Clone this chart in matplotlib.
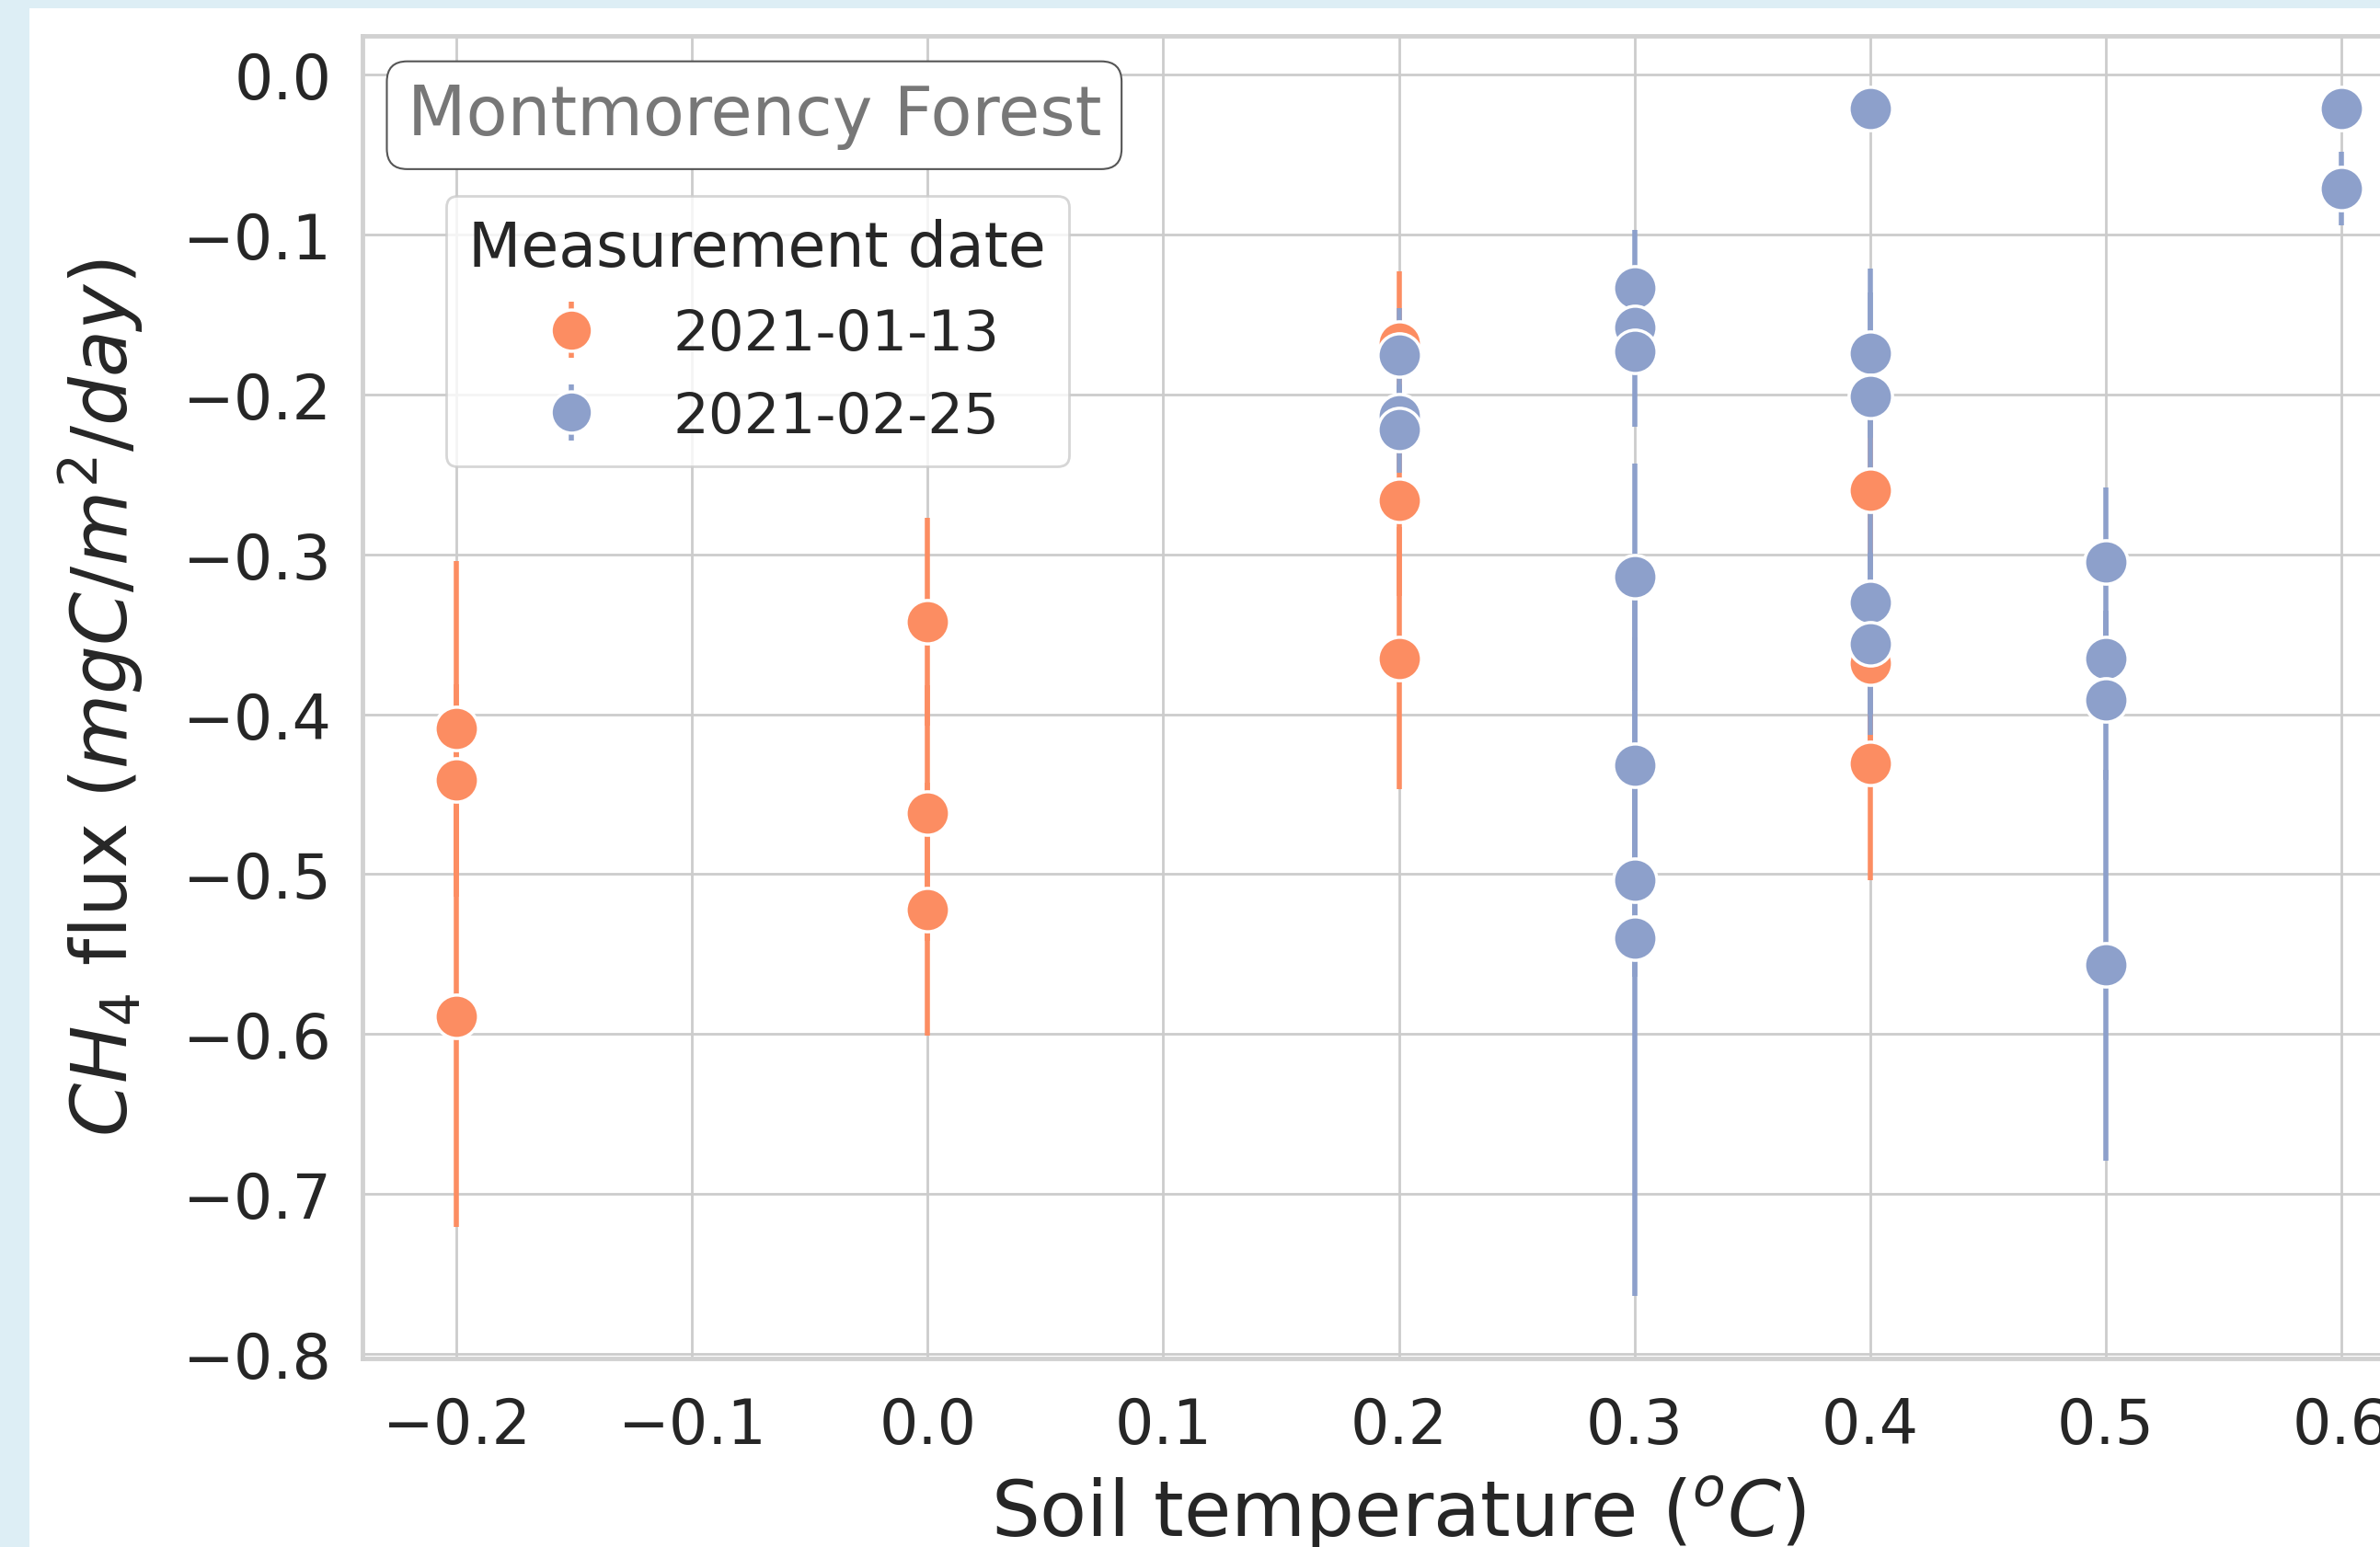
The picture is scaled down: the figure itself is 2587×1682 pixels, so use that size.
import matplotlib
matplotlib.use("Agg")
import matplotlib.pyplot as plt
from matplotlib.patches import Rectangle
import seaborn as sns

# soil temperature (oC), CH4 flux and its error for each measurement date
temp_jan = [-0.2, -0.2, -0.2, 0.0, 0.0, 0.0, 0.2, 0.2, 0.2, 0.4, 0.4, 0.4]
flux_jan = [-0.409, -0.441, -0.589, -0.342, -0.462, -0.522,
            -0.168, -0.266, -0.365, -0.260, -0.368, -0.431]
err_jan = [0.105, 0.06, 0.132, 0.065, 0.08, 0.079,
           0.045, 0.06, 0.082, 0.05, 0.05, 0.073]

temp_feb = [0.2, 0.2, 0.2,
            0.3, 0.3, 0.3, 0.3, 0.3, 0.3, 0.3,
            0.4, 0.4, 0.4, 0.4, 0.4,
            0.5, 0.5, 0.5, 0.5,
            0.6, 0.6]
flux_feb = [-0.175, -0.2135, -0.222,
            -0.133, -0.158, -0.173, -0.314, -0.432, -0.504, -0.540,
            -0.021, -0.174, -0.201, -0.330, -0.356,
            -0.305, -0.365, -0.391, -0.557,
            -0.021, -0.071]
err_feb = [0.029, 0.02, 0.027,
           0.036, 0.03, 0.047, 0.071, 0.08, 0.06, 0.224,
           0.005, 0.053, 0.065, 0.07, 0.057,
           0.047, 0.03, 0.05, 0.1225,
           0.0, 0.023]

dates = ["2021-01-13", "2021-02-25"]
colors = ["#fc8d62", "#8da0cb"]

sns.set_style("whitegrid")
plt.rcParams["font.family"] = ["DejaVu Sans"]
plt.rcParams["axes.edgecolor"] = ".8"
plt.rcParams["grid.color"] = ".8"

W, H = 2587, 1683
fig = plt.figure(figsize=(W / 100, H / 100), dpi=100)
fig.patch.set_facecolor("#ddeef5")
# white page inside the light blue frame
fig.add_artist(Rectangle((32 / W, 0), 1, 1 - 10 / H, transform=fig.transFigure,
                         facecolor="white", edgecolor="none", zorder=-5))

ax = fig.add_axes([394 / W, 1 - 1478 / H, (2647 - 394) / W, (1478 - 40) / H])
ax.set_facecolor("white")

series = [(temp_jan, flux_jan, err_jan), (temp_feb, flux_feb, err_feb)]
for (x, y, e), lab, c in zip(series, dates, colors):
    ax.errorbar(x, y, yerr=e, fmt="o", color=c, ecolor=c, elinewidth=4,
                markersize=34, markeredgecolor="white", markeredgewidth=2.5,
                label=lab)

ax.set_xlim(-0.24, 0.64)
ax.set_ylim(-0.803, 0.0244)
ax.set_xticks([-0.2, -0.1, 0.0, 0.1, 0.2, 0.3, 0.4, 0.5, 0.6])
ax.set_yticks([0.0, -0.1, -0.2, -0.3, -0.4, -0.5, -0.6, -0.7, -0.8])
ax.grid(True, color=".8", linewidth=2)
for s in ax.spines.values():
    s.set_linewidth(3.5)
    s.set_color(".82")
ax.tick_params(axis="both", length=0, labelsize=48, colors=".15")
ax.tick_params(axis="x", pad=29)
ax.tick_params(axis="y", pad=24)

ax.set_xlabel("Soil temperature ($^oC$)", fontsize=60, color=".15", labelpad=14)
ax.set_ylabel("$CH_4$ flux $(mgC/m^2/day)$", fontsize=60, color=".15", labelpad=29)

ax.text(0.189, 0.940, "Montmorency Forest", transform=ax.transAxes,
        fontsize=53, color="#777777", ha="center", va="center",
        bbox=dict(boxstyle="round,pad=0.3", facecolor="white",
                  edgecolor="#555555", linewidth=1.5), zorder=5)

leg = ax.legend(title="Measurement date", loc="upper left",
                bbox_to_anchor=(0.0404, 0.879), borderaxespad=0,
                fontsize=44, title_fontsize=48, markerscale=0.95,
                frameon=True, fancybox=True)
leg.get_frame().set_edgecolor(".8")
leg.get_frame().set_linewidth(2)
for t in leg.get_texts():
    t.set_color(".15")
leg.get_title().set_color(".15")

fig.savefig("out.png", dpi=100)
